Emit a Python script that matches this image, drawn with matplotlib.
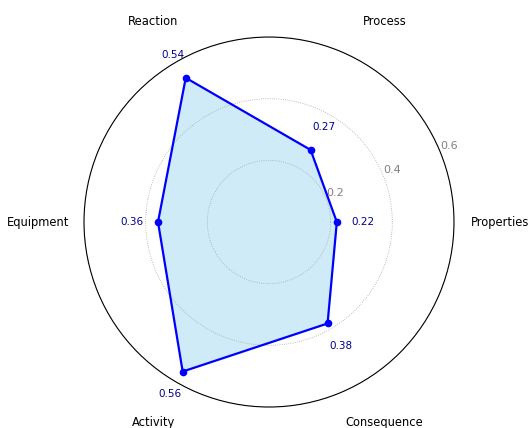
import numpy as np
import matplotlib
matplotlib.use('Agg')
from matplotlib import pyplot as plt

# Données du radar
categories = ['Properties', 'Process', 'Reaction', 'Equipment', 'Activity', 'Consequence']
values = [0.22, 0.27, 0.54, 0.36, 0.56, 0.38]
r_ticks = [0.2, 0.4, 0.6]
r_tick_labels = ['0.2', '0.4', '0.6']

n = len(categories)
angles = np.linspace(0, 2 * np.pi, n, endpoint=False)
closed_angles = np.concatenate([angles, angles[:1]])
closed_values = values + values[:1]

fig = plt.figure(figsize=(5.29, 4.28), dpi=100)
ax = fig.add_axes([0.1588, 0.049, 0.6994, 0.8645], projection='polar')

ax.fill(closed_angles, closed_values, color='skyblue', alpha=0.4)
ax.plot(closed_angles, closed_values, 'b-', linewidth=1.6)
ax.plot(angles, values, 'bo', markersize=4.5)

ax.set_ylim(0, 0.6)
ax.set_yticks(r_ticks)
ax.set_yticklabels(r_tick_labels, color='gray', fontsize=8)
ax.set_rlabel_position(22.5)
ax.yaxis.grid(True, color='darkgray', linestyle=':', linewidth=0.6)

ax.set_xticks(angles)
ax.set_xticklabels([])
ax.tick_params(axis='both', length=0)
ax.xaxis.grid(False)
ax.spines['polar'].set_color('black')
ax.spines['polar'].set_capstyle('butt')

# Étiquettes des catégories
for a, lab in zip(angles, categories):
    ax.text(a, 0.75, lab, ha='center', va='center', fontsize=8.3, clip_on=False)

# Étiquettes des valeurs
for a, v in zip(angles, values):
    ax.text(a, v + 0.085, f'{v:.2f}', ha='center', va='center',
            fontsize=7.5, color='darkblue')

fig.savefig('out.png', dpi=100)
